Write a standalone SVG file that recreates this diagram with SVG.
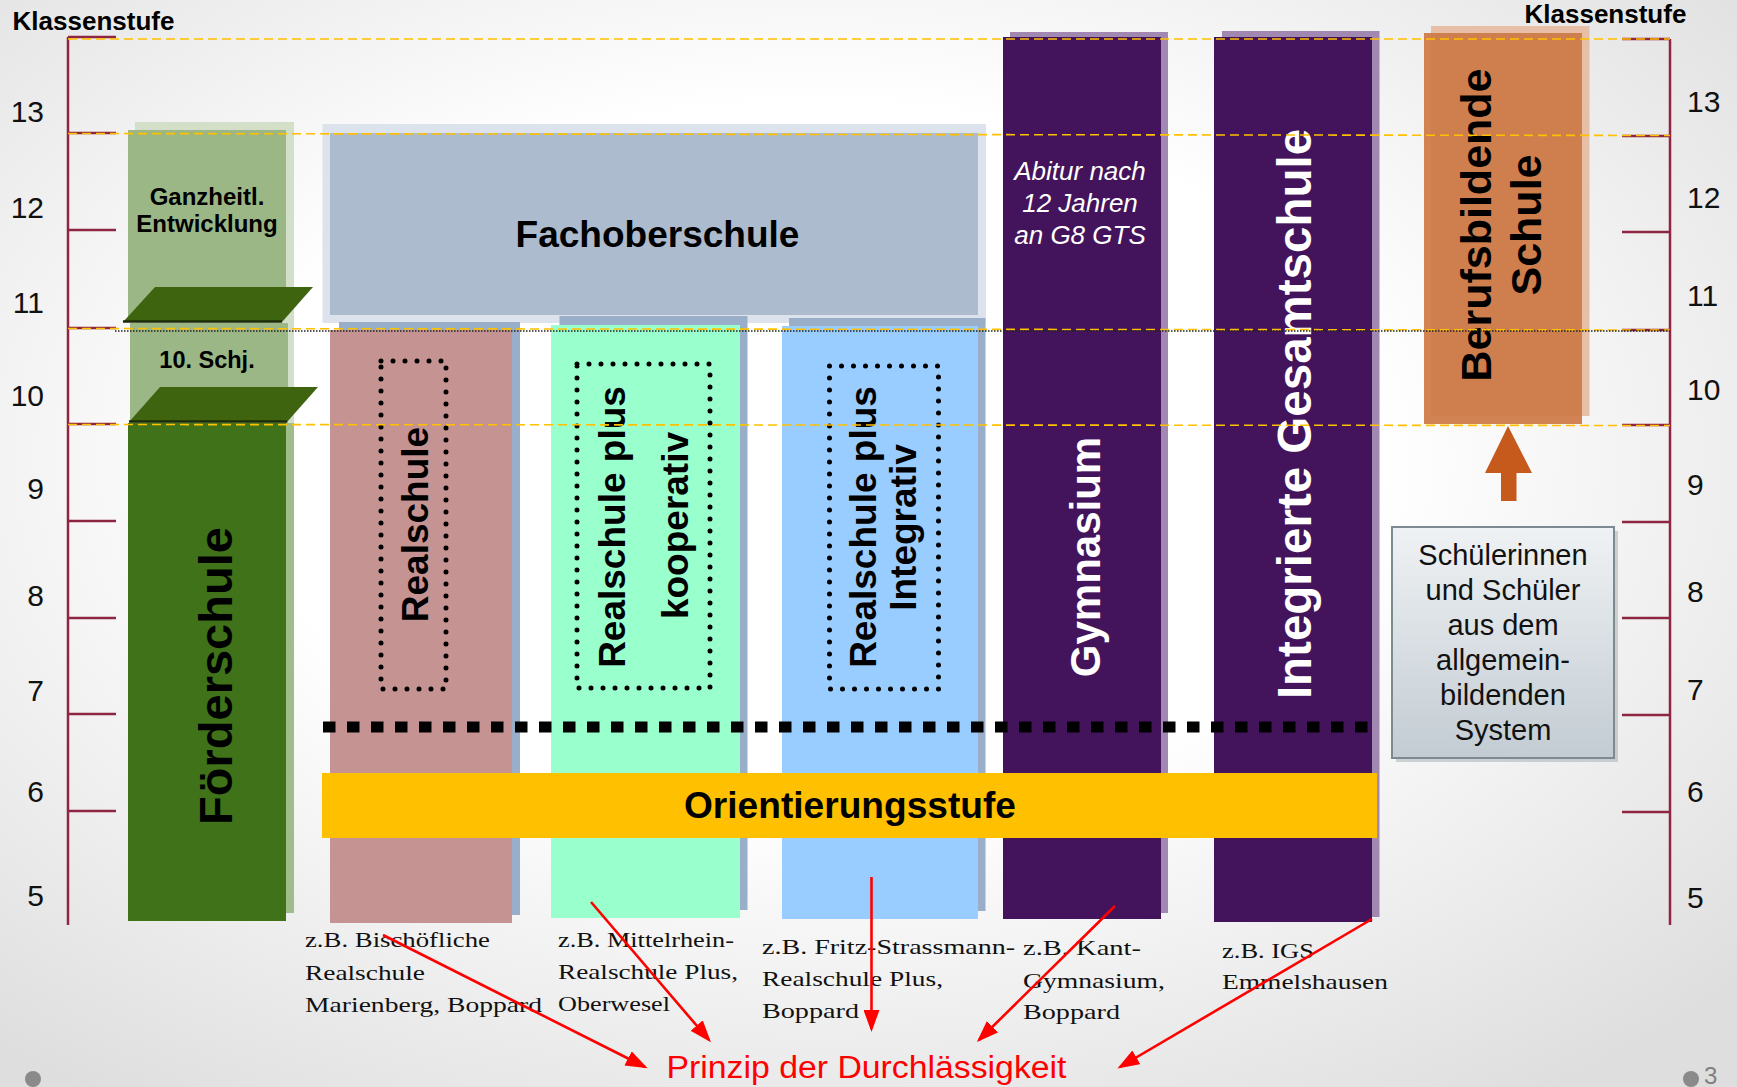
<svg xmlns="http://www.w3.org/2000/svg" width="1737" height="1087" viewBox="0 0 1737 1087">
<defs>
<radialGradient id="bg" cx="0.47" cy="0.42" r="0.72">
<stop offset="0.45" stop-color="#ffffff"/>
<stop offset="1" stop-color="#dedede"/>
</radialGradient>
<linearGradient id="boxg" x1="0" y1="0" x2="0" y2="1">
<stop offset="0" stop-color="#eff2f4"/>
<stop offset="1" stop-color="#c3ccd3"/>
</linearGradient>
<marker id="ah" markerUnits="userSpaceOnUse" markerWidth="22" markerHeight="16" refX="19" refY="8" orient="auto">
<path d="M0,0 L22,8 L0,16 z" fill="#ff0000"/>
</marker>
<style>
.sans{font-family:"Liberation Sans",Arial,sans-serif}
.b{font-family:"Liberation Sans",Arial,sans-serif;font-weight:bold}
.num{font-family:"Liberation Sans",Arial,sans-serif;font-size:30px;fill:#111}
.ax{stroke:#8e2541;stroke-width:2.5;fill:none}
.grid{stroke:#ffc000;stroke-width:1.6;stroke-dasharray:9 5;fill:none}
.dotbox{fill:none;stroke:#000;stroke-width:5;stroke-dasharray:0 12;stroke-linecap:round}
.ex{font-family:"Liberation Serif","Times New Roman",serif;font-size:21px;fill:#111}
.red{stroke:#ff0000;stroke-width:2.6;fill:none;marker-end:url(#ah)}
.shadow{fill:#98aec9}
.purp{fill:#43145b}
.purpsh{fill:#a088b0}
</style>
</defs>
<rect x="0" y="0" width="1737" height="1087" fill="url(#bg)"/>

<g id="axis-left">
<line class="ax" x1="68" y1="37" x2="68" y2="925"/>
<path class="ax" d="M68,37H116M68,133H116M68,230H116M68,328H116M68,424H116M68,521H116M68,618H116M68,714H116M68,811H116"/>
<text class="b" x="12.6" y="30" font-size="26">Klassenstufe</text>
<g class="num" text-anchor="end">
<text x="44" y="122">13</text><text x="44" y="218">12</text><text x="44" y="313">11</text><text x="44" y="406">10</text><text x="44" y="499">9</text><text x="44" y="606">8</text><text x="44" y="701">7</text><text x="44" y="802">6</text><text x="44" y="906">5</text>
</g>
</g>

<g id="axis-right">
<line class="ax" x1="1670" y1="39" x2="1670" y2="925"/>
<path class="ax" d="M1622,39H1670M1622,136H1670M1622,232H1670M1622,330H1670M1622,425H1670M1622,522H1670M1622,618H1670M1622,715H1670M1622,812H1670"/>
<text class="b" x="1524.5" y="23" font-size="26">Klassenstufe</text>
<g class="num">
<text x="1687" y="112">13</text><text x="1687" y="208">12</text><text x="1687" y="306">11</text><text x="1687" y="400">10</text><text x="1687" y="495">9</text><text x="1687" y="602">8</text><text x="1687" y="700">7</text><text x="1687" y="802">6</text><text x="1687" y="908">5</text>
</g>
</g>

<g id="foerderschule">
<rect x="135" y="122" width="159" height="195" fill="#d4dfca"/>
<rect x="128" y="130" width="158" height="192" fill="#9bb786"/>
<rect x="136" y="313" width="158" height="110" fill="#d4dfca"/>
<rect x="130" y="323" width="158" height="100" fill="#9bb786"/>
<rect x="286" y="423" width="8" height="490" fill="#9fbd8b"/>
<rect x="128" y="423" width="158" height="498" fill="#3f7219"/>
<polygon points="155,287 313,287 282,322 123,322" fill="#3e6410"/>
<line x1="123" y1="321.5" x2="282" y2="321.5" stroke="#1c2c08" stroke-width="2.5"/>
<polygon points="160,387 318,387 287,422 129,422" fill="#3e6410"/>
<line x1="129" y1="421.5" x2="287" y2="421.5" stroke="#1c2c08" stroke-width="2.5"/>
<text class="b" font-size="24" text-anchor="middle"><tspan x="207" y="205">Ganzheitl.</tspan><tspan x="207" y="232">Entwicklung</tspan></text>
<text class="b" font-size="23.5" x="207" y="368" text-anchor="middle">10. Schj.</text>
<text class="b" font-size="47" text-anchor="middle" transform="translate(232,676) rotate(-90)">Förderschule</text>
</g>

<g id="fachoberschule">
<rect x="322.5" y="124" width="663.5" height="199" fill="#dce3ec"/>
<rect x="330" y="133" width="648" height="182" fill="#acbbce"/>
<text class="b" font-size="37" x="657.5" y="247" text-anchor="middle">Fachoberschule</text>
</g>

<g id="realschule">
<rect class="shadow" x="339" y="322" width="181" height="593"/>
<rect x="330" y="330" width="182" height="593" fill="#c69393"/>
<rect class="dotbox" x="381" y="361" width="65" height="328"/>
<text class="b" font-size="37" text-anchor="middle" transform="translate(428,524.5) rotate(-90)">Realschule</text>
</g>

<g id="rsplus-kooperativ">
<rect class="shadow" x="559.5" y="316" width="188" height="594"/>
<rect x="551" y="325" width="189" height="593" fill="#99ffcc"/>
<rect class="dotbox" x="577" y="364" width="133" height="324"/>
<text class="b" font-size="37" text-anchor="middle" transform="translate(624.5,527) rotate(-90)">Realschule plus</text>
<text class="b" font-size="37" text-anchor="middle" transform="translate(688,525.5) rotate(-90)">kooperativ</text>
</g>

<g id="rsplus-integrativ">
<rect class="shadow" x="789" y="318" width="196.5" height="593"/>
<rect x="782" y="326" width="196" height="593" fill="#99ccff"/>
<rect class="dotbox" x="829.5" y="366" width="109" height="323"/>
<text class="b" font-size="37" text-anchor="middle" transform="translate(875.5,527) rotate(-90)">Realschule plus</text>
<text class="b" font-size="37" text-anchor="middle" transform="translate(916,527.5) rotate(-90)">Integrativ</text>
</g>

<g id="gymnasium">
<rect class="purpsh" x="1010" y="32" width="158" height="881"/>
<rect class="purp" x="1003" y="37" width="158" height="882"/>
<text class="sans" font-size="26" font-style="italic" fill="#fff" text-anchor="middle"><tspan x="1080" y="180">Abitur nach</tspan><tspan x="1080" y="212.3">12 Jahren</tspan><tspan x="1080" y="244.3">an G8 GTS</tspan></text>
<text class="b" font-size="42" fill="#fff" text-anchor="middle" transform="translate(1100,557) rotate(-90)">Gymnasium</text>
</g>

<g id="igs">
<rect class="purpsh" x="1222" y="31" width="157.5" height="886"/>
<rect class="purp" x="1214" y="37" width="158" height="885"/>
<text class="b" font-size="47.5" fill="#fff" text-anchor="middle" transform="translate(1311,414) rotate(-90)">Integrierte Gesamtschule</text>
</g>

<g id="bbs">
<rect x="1431" y="26" width="158.5" height="390" fill="#e6bfa6"/>
<rect x="1424" y="33" width="158" height="391" fill="#cd7845" fill-opacity="0.92"/>
<text class="b" font-size="43" text-anchor="middle" transform="translate(1491,225) rotate(-90)">Berufsbildende</text>
<text class="b" font-size="43" text-anchor="middle" transform="translate(1541,225) rotate(-90)">Schule</text>
</g>

<g id="grid">
<line class="grid" x1="68" y1="39" x2="1670" y2="39"/>
<line class="grid" x1="68" y1="133.5" x2="1670" y2="135.5"/>
<line class="grid" x1="68" y1="328.5" x2="1670" y2="330"/>
<line x1="115" y1="331" x2="1670" y2="331" stroke="#222" stroke-width="1.5" stroke-dasharray="1.5 1.5"/>
<line class="grid" x1="68" y1="424.5" x2="1670" y2="425.5"/>
</g>

<g id="orientierungsstufe">
<line x1="323" y1="727" x2="1371" y2="727" stroke="#000" stroke-width="11" stroke-dasharray="12.5 11.5"/>
<rect x="322" y="773" width="1055" height="65" fill="#ffc000"/>
<text class="b" font-size="36.5" x="684" y="817.7" textLength="332" lengthAdjust="spacingAndGlyphs">Orientierungsstufe</text>
</g>

<g id="allgemein-box">
<rect x="1396" y="531" width="222" height="231" fill="#9aa3a9" opacity="0.45"/>
<rect x="1392" y="527" width="222" height="231" fill="url(#boxg)" stroke="#7e8a91" stroke-width="2"/>
<text class="sans" font-size="29" fill="#111" text-anchor="middle"><tspan x="1503" y="565">Schülerinnen</tspan><tspan x="1503" y="600">und Schüler</tspan><tspan x="1503" y="635">aus dem</tspan><tspan x="1503" y="670">allgemein-</tspan><tspan x="1503" y="705">bildenden</tspan><tspan x="1503" y="740">System</tspan></text>
</g>

<g id="examples">
<text class="ex" x="305" y="947" textLength="185" lengthAdjust="spacingAndGlyphs">z.B. Bischöfliche</text>
<text class="ex" x="305" y="980" textLength="120" lengthAdjust="spacingAndGlyphs">Realschule</text>
<text class="ex" x="305" y="1012" textLength="237" lengthAdjust="spacingAndGlyphs">Marienberg, Boppard</text>
<text class="ex" x="558" y="947" textLength="176" lengthAdjust="spacingAndGlyphs">z.B. Mittelrhein-</text>
<text class="ex" x="558" y="979" textLength="180" lengthAdjust="spacingAndGlyphs">Realschule Plus,</text>
<text class="ex" x="558" y="1011" textLength="112" lengthAdjust="spacingAndGlyphs">Oberwesel</text>
<text class="ex" x="762" y="954" textLength="253" lengthAdjust="spacingAndGlyphs">z.B. Fritz-Strassmann-</text>
<text class="ex" x="762" y="986" textLength="181" lengthAdjust="spacingAndGlyphs">Realschule Plus,</text>
<text class="ex" x="762" y="1018" textLength="97" lengthAdjust="spacingAndGlyphs">Boppard</text>
<text class="ex" x="1023" y="955" textLength="118" lengthAdjust="spacingAndGlyphs">z.B. Kant-</text>
<text class="ex" x="1023" y="988" textLength="142" lengthAdjust="spacingAndGlyphs">Gymnasium,</text>
<text class="ex" x="1023" y="1019" textLength="97" lengthAdjust="spacingAndGlyphs">Boppard</text>
<text class="ex" x="1222" y="958" textLength="92" lengthAdjust="spacingAndGlyphs">z.B. IGS</text>
<text class="ex" x="1222" y="989" textLength="166" lengthAdjust="spacingAndGlyphs">Emmelshausen</text>
</g>

<g id="connectors">
<polygon points="1508,426 1532,473 1516.5,473 1516.5,501 1501,501 1501,473 1485,473" fill="#c55a1c"/>
<line class="red" x1="383" y1="935" x2="645" y2="1067"/>
<line class="red" x1="591" y1="902" x2="709" y2="1040"/>
<line class="red" x1="871.5" y1="877" x2="871.5" y2="1029"/>
<line class="red" x1="1115" y1="906" x2="979" y2="1040"/>
<line class="red" x1="1372" y1="919" x2="1120" y2="1067"/>
</g>

<g id="durchlaessigkeit">
<text class="sans" font-size="31" fill="#ff0000" x="666.5" y="1078" textLength="400" lengthAdjust="spacingAndGlyphs">Prinzip der Durchlässigkeit</text>
</g>

<g id="page">
<circle cx="33" cy="1079" r="8" fill="#8a8a8a"/>
<circle cx="1691" cy="1079" r="8" fill="#8a8a8a"/>
<text class="sans" font-size="24" fill="#7f7f7f" x="1704" y="1084">3</text>
</g>
</svg>
